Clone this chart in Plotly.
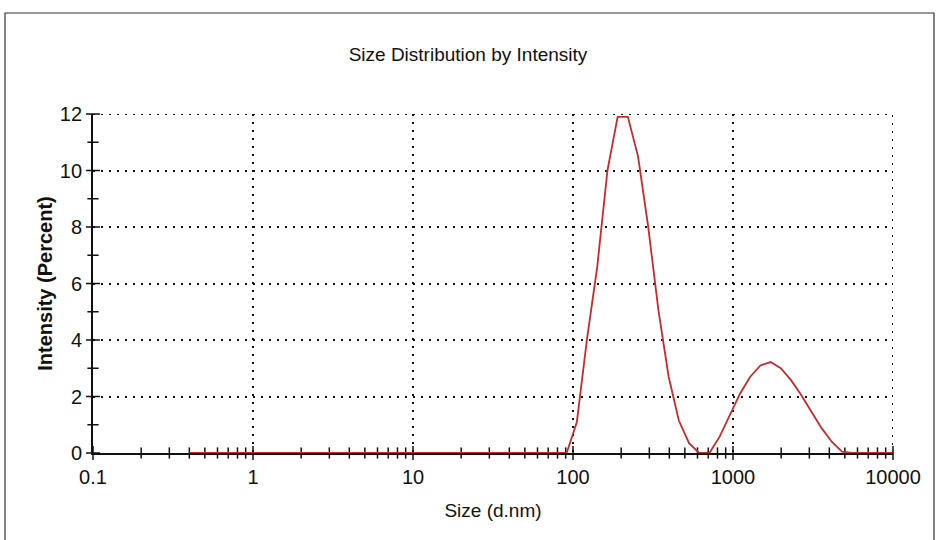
import plotly.graph_objects as go

# Size classes (d.nm)
sizes = [0.4000, 0.4632, 0.5365, 0.6213, 0.7195, 0.8332, 0.9649, 1.117, 1.294, 1.499,
         1.736, 2.010, 2.328, 2.696, 3.122, 3.615, 4.187, 4.849, 5.615, 6.503,
         7.531, 8.721, 10.10, 11.70, 13.54, 15.69, 18.17, 21.04, 24.36, 28.21,
         32.67, 37.84, 43.82, 50.75, 58.77, 68.06, 78.82, 91.28, 105.7, 122.4,
         141.8, 164.2, 190.1, 220.2, 255.0, 295.3, 342.0, 396.1, 458.7, 531.2,
         615.1, 712.4, 825.0, 955.4, 1106, 1281, 1484, 1718, 1990, 2305,
         2669, 3091, 3580, 4145, 4801, 5560, 6439, 7456, 8635, 10000]

# Intensity (%) per class
intensity = [0, 0, 0, 0, 0, 0, 0, 0, 0, 0,
             0, 0, 0, 0, 0, 0, 0, 0, 0, 0,
             0, 0, 0, 0, 0, 0, 0, 0, 0, 0,
             0, 0, 0, 0, 0, 0, 0, 0, 1.1, 4.05,
             6.6, 10.0, 11.9, 11.9, 10.5, 8.0, 5.05, 2.7, 1.15, 0.35,
             0, 0, 0.58, 1.35, 2.1, 2.7, 3.1, 3.22, 3.0, 2.58,
             2.05, 1.46, 0.88, 0.4, 0.05, 0, 0, 0, 0, 0]

x_ticks = [0.1, 1, 10, 100, 1000, 10000]
x_tick_labels = ["0.1", "1", "10", "100", "1000", "10000"]
x_minor_digits = [2, 3, 4, 5, 6, 7, 8, 9]
y_ticks = [0, 2, 4, 6, 8, 10, 12]
y_minor_ticks = [1, 3, 5, 7, 9, 11]
x_range = [0.1, 10000]
y_range = [0, 12]

x_minor_ticks = [d * t for t in x_ticks[:-1] for d in x_minor_digits]

FAMILY = "Liberation Sans, Arial, sans-serif"
TICKFONT = dict(family=FAMILY, size=20, color="#111")
DOTS = "2px,6px"
INK = "#111"

fig = go.Figure()

# crossing tick marks ("+" style) drawn as line markers on the axes
def tick_marks(xs, ys, symbol, size):
    return go.Scatter(x=xs, y=ys, mode="markers", cliponaxis=False,
                      marker=dict(symbol=symbol, size=size, color=INK,
                                  line=dict(color=INK, width=1.5)),
                      hoverinfo="skip", showlegend=False)

fig.add_trace(tick_marks([x_range[0]] * len(y_ticks), y_ticks, "line-ew", 10))
fig.add_trace(tick_marks([x_range[0]] * len(y_minor_ticks), y_minor_ticks, "line-ew", 8))
fig.add_trace(tick_marks(x_ticks, [y_range[0]] * len(x_ticks), "line-ns", 10))
fig.add_trace(tick_marks(x_minor_ticks, [y_range[0]] * len(x_minor_ticks), "line-ns", 8))

fig.add_trace(go.Scatter(x=sizes, y=intensity, mode="lines", cliponaxis=False,
                         line=dict(color="#c92a2a", width=1.8),
                         hoverinfo="skip", showlegend=False))

grid_common = dict(showgrid=True, gridcolor=INK, gridwidth=2, griddash=DOTS)

fig.update_layout(
    width=936, height=540,
    margin=dict(l=93, r=43, t=114, b=87),
    paper_bgcolor="white", plot_bgcolor="white",
    title=dict(text="Size Distribution by Intensity", x=0.5, xanchor="center",
               y=1 - 54 / 540, yanchor="middle",
               font=dict(family=FAMILY, size=19, color=INK)),
    xaxis=dict(type="log", range=[-1, 4], tickvals=x_ticks, ticktext=x_tick_labels,
               ticks="outside", ticklen=5, tickcolor="rgba(0,0,0,0)",
               showline=True, linecolor=INK, linewidth=1.8, zeroline=False,
               tickfont=TICKFONT,
               title=dict(text="Size (d.nm)", font=dict(family=FAMILY, size=19, color=INK),
                          standoff=17),
               **grid_common),
    yaxis=dict(range=y_range, tickvals=y_ticks,
               ticks="outside", ticklen=5, tickcolor="rgba(0,0,0,0)",
               showline=True, linecolor=INK, linewidth=1.8, zeroline=False,
               tickfont=TICKFONT,
               title=dict(text="<b>Intensity (Percent)</b>",
                          font=dict(family=FAMILY, size=20, color=INK),
                          standoff=2),
               **grid_common),
    shapes=[
        # outer frame
        dict(type="rect", xref="paper", yref="paper",
             x0=(5 - 93) / 800, x1=(934 - 93) / 800,
             y0=(453 - 560) / 339, y1=(453 - 13) / 339,
             line=dict(color="#333", width=1.2), layer="below"),
        # grid lines on the plot edges (top and right)
        dict(type="line", xref="paper", yref="y", x0=0, x1=1, y0=y_range[1], y1=y_range[1],
             line=dict(color=INK, width=2, dash=DOTS), layer="below"),
        dict(type="line", xref="x", yref="paper", x0=x_range[1], x1=x_range[1], y0=0, y1=1,
             line=dict(color=INK, width=2, dash=DOTS), layer="below"),
    ],
)

fig.write_html("out.html", config={"displayModeBar": False},
               post_script="document.body.style.margin='0';")
